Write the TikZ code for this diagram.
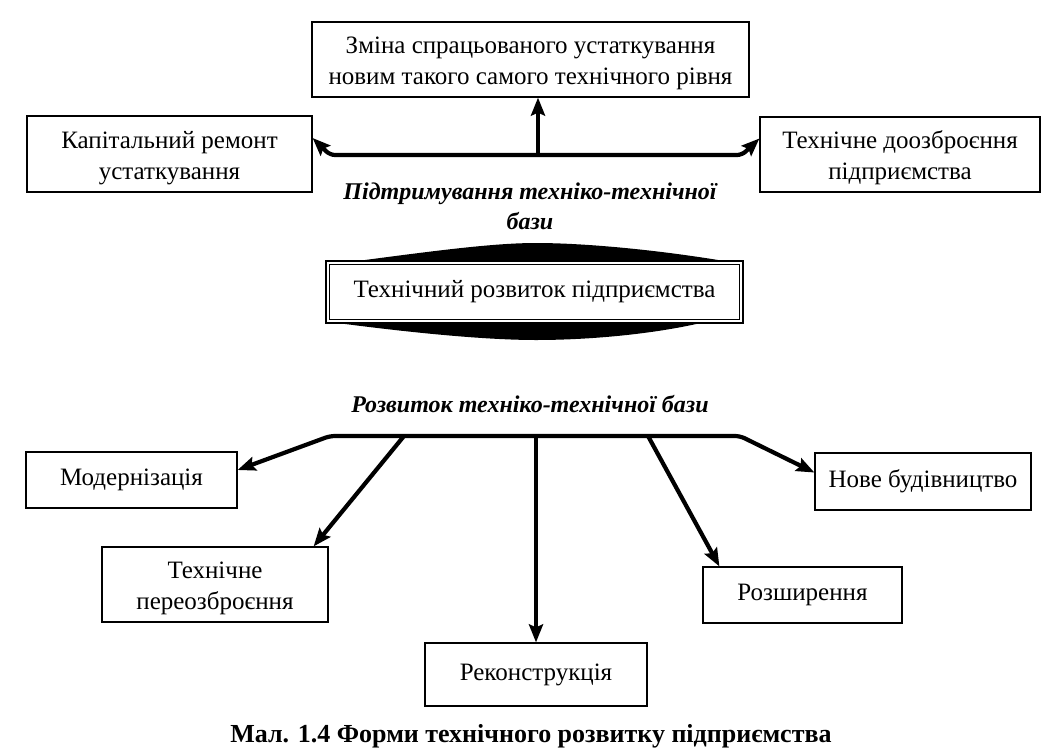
\documentclass[tikz,border=0pt]{standalone}
\usepackage{fontspec}
\setmainfont{Liberation Serif}
\usetikzlibrary{arrows.meta,calc}
\begin{document}
\begin{tikzpicture}[x=1pt,y=-1pt,
  box/.style={draw,line width=1.2pt,fill=white,align=center,inner sep=0pt,
    font=\fontsize{25}{31}\selectfont},
  lbl/.style={align=center,inner sep=0pt,font=\fontsize{24}{30}\selectfont\bfseries\itshape},
  capt/.style={inner sep=0pt,font=\fontsize{26}{30}\selectfont\bfseries},
  tip/.tip={Stealth[length=18pt,width=14pt,inset=3pt]},
  conn/.style={line width=4.2pt,-tip},
  conn2/.style={line width=4.2pt,tip-tip,rounded corners=5pt}]
\useasboundingbox (0,0) rectangle (1063,753);
\fill[white] (0,0) rectangle (1063,753);

% nodes
\node[box,minimum width=437pt,minimum height=75pt] (top) at (530.5,59.5)
  {\rule{0pt}{25pt}Зміна спрацьованого устаткування\\новим такого самого технічного рівня};
\node[box,minimum width=285pt,minimum height=76pt] (kap) at (169.5,154)
  {\rule{0pt}{25pt}Капітальний ремонт\\устаткування};
\node[box,minimum width=280pt,minimum height=75pt] (doz) at (900,154.5)
  {\rule{0pt}{25pt}Технічне доозброєння\\підприємства};
\node[lbl] (sup) at (530,206) {Підтримування техніко-технічної\\бази};

% black lens behind central box
\fill (350,270) -- (350,262) .. controls (440,250) and (495,243) .. (536,243)
  .. controls (585,243) and (660,250) .. (730,262) -- (730,270) -- cycle;
\fill (330,316) -- (330,322) .. controls (420,334) and (490,340) .. (536,340)
  .. controls (590,340) and (655,334) .. (705,322) -- (705,316) -- cycle;
\node[box,line width=2.6pt,minimum width=417pt,minimum height=62pt] (cen) at (534.5,292)
  {Технічний розвиток підприємства};
\draw[line width=0.9pt] ([shift={(5pt,-5pt)}]cen.north west) rectangle ([shift={(-5pt,5pt)}]cen.south east);

\node[lbl] (dev) at (530,404) {Розвиток техніко-технічної бази};
\node[box,minimum width=211pt,minimum height=56pt] (mod) at (131.5,480) {Модернізація};
\node[box,minimum width=226pt,minimum height=75pt] (per) at (215,584.5) {\rule{0pt}{25pt}Технічне\\переозброєння};
\node[box,minimum width=222pt,minimum height=63pt] (rek) at (536,674.5) {Реконструкція};
\node[box,minimum width=199pt,minimum height=56pt] (roz) at (802.5,595) {Розширення};
\node[box,minimum width=216pt,minimum height=57pt] (nov) at (923,481.5) {Нове будівництво};
\node[capt] (cap) at (531,736) {Мал. 1.4 Форми технічного розвитку підприємства};

% upper connectors
\coordinate (h1) at (538,155);
\coordinate (h1L) at (330,155);
\coordinate (h1R) at (742,155);
\draw[conn] (h1) -- (top.south -| h1);
\draw[conn2] ($(kap.east)+(0,-16)$) -- (h1L) -- (h1R) -- ($(doz.west)+(0,-16)$);

% lower connectors
\coordinate (h2L) at (330,436);
\coordinate (h2R) at (740,436);
\coordinate (h2a) at (404,436);
\coordinate (h2c) at (648,436);
\draw[conn2] ($(mod.east)+(0,-10)$) -- (h2L) -- (h2R) -- ($(nov.west)+(0,-9)$);
\draw[conn] (h2a) -- ($(per.north east)+(-15,0)$);
\draw[conn] (h2L -| rek) -- (rek.north);
\draw[conn] (h2c) -- ($(roz.north west)+(17,0)$);
\end{tikzpicture}
\end{document}
